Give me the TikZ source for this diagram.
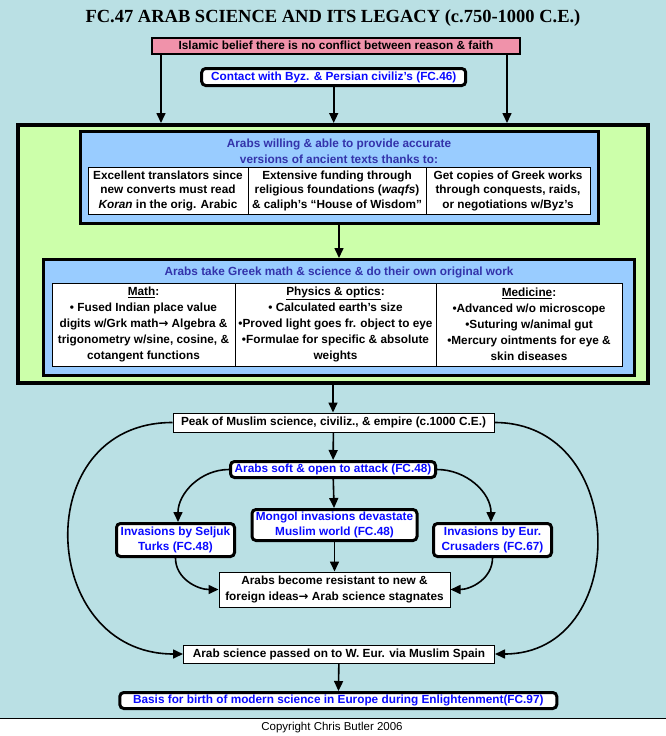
\documentclass[tikz,border=0pt]{standalone}
\usepackage{fontspec}
\setmainfont{Liberation Sans}
\newfontfamily\titlefont{Liberation Serif}
\newfontfamily\arrowfont{DejaVu Sans}
\newcommand{\toarrow}{{\arrowfont\bfseries →}}
\usetikzlibrary{arrows.meta}
\usetikzlibrary{positioning}
\definecolor{bgteal}{RGB}{186,224,228}
\definecolor{greenbg}{RGB}{204,255,170}
\definecolor{bluebg}{RGB}{153,204,255}
\definecolor{pinkbg}{RGB}{240,146,170}
\definecolor{linkblue}{RGB}{10,10,255}
\definecolor{headblue}{RGB}{51,51,170}
\tikzset{
    font={\fontsize{11.8}{14.5}\selectfont\bfseries},
    box/.style={
           rectangle,
           draw=black, line width=1pt,
           fill=white,
           inner sep=0pt,
           align=center,
           text centered,
           },
    linkbox/.style={box, rounded corners=4pt, line width=3pt, text=linkblue},
    cell/.style={box, line width=0.8pt},
    frame/.style={rectangle, draw=black, inner sep=0pt},
    arr/.style={-{Triangle[length=10pt,width=9pt]}, line width=1.6pt},
}
\begin{document}
\begin{tikzpicture}[x=1pt,y=-1pt]
\useasboundingbox (0,0) rectangle (666,736);
\fill[bgteal] (0,0) rectangle (666,718);
\draw[line width=1pt] (0,718) -- (666,718);

\node[font={\titlefont\fontsize{18.5}{20}\selectfont\bfseries}] (TITLE) at (333,18) {FC.47 ARAB SCIENCE AND ITS LEGACY (c.750-1000 C.E.)};

% top causes
\node[box, fill=pinkbg, line width=2pt, minimum width=368pt, minimum height=16pt] (FAITH) at (336,45.5) {Islamic belief there is no conflict between reason \& faith};
\node[linkbox, minimum width=264pt, minimum height=17pt] (CONTACT) at (333.7,77) {Contact with Byz. \& Persian civiliz’s (FC.46)};

% big green frame
\node[frame, fill=greenbg, line width=4pt, minimum width=630pt, minimum height=258pt] (GREEN) at (333,254) {};

% State: accurate versions of texts
\node[frame, fill=bluebg, line width=3pt, minimum width=518pt, minimum height=92pt] (TEXTS) at (339,177.5) {};
\node[text=headblue, align=center, font={\fontsize{11.8}{16}\selectfont\bfseries}] (TEXTSHEAD) at (339,151.5) {Arabs willing \& able to provide accurate\\versions of ancient texts thanks to:};
\node[cell, minimum width=160pt, minimum height=47pt] (TRANSLATORS) at (168,190.5) {Excellent translators since\\new converts must read\\\textit{Koran} in the orig. Arabic};
\node[cell, minimum width=178pt, minimum height=47pt, right=-0.8pt of TRANSLATORS] (FUNDING) {Extensive funding through\\religious foundations (\textit{waqfs})\\\& caliph’s “House of Wisdom”};
\node[cell, minimum width=164pt, minimum height=47pt, right=-0.8pt of FUNDING] (COPIES) {Get copies of Greek works\\through conquests, raids,\\or negotiations w/Byz’s};

% State: original work
\node[frame, fill=bluebg, line width=3pt, minimum width=591pt, minimum height=116pt] (WORK) at (339,317.5) {};
\node[text=headblue] (WORKHEAD) at (339,272) {Arabs take Greek math \& science \& do their own original work};
\node[cell, minimum width=183pt, minimum height=83pt, font={\fontsize{11.8}{16}\selectfont\bfseries}] (MATH) at (143.5,324.5) {\underline{Math}:\\• Fused Indian place value\\digits w/Grk math\toarrow{} Algebra \&\\trigonometry w/sine, cosine, \&\\cotangent functions};
\node[cell, minimum width=201pt, minimum height=83pt, font={\fontsize{11.8}{16}\selectfont\bfseries}, right=-0.8pt of MATH] (PHYSICS) {\underline{Physics \& optics}:\\• Calculated earth’s size\\•Proved light goes fr. object to eye\\•Formulae for specific \& absolute\\weights};
\node[cell, minimum width=186pt, minimum height=83pt, font={\fontsize{11.8}{16}\selectfont\bfseries}, right=-0.8pt of PHYSICS] (MEDICINE) {\underline{Medicine}:\\•Advanced w/o microscope\\•Suturing w/animal gut\\•Mercury ointments for eye \&\\skin diseases};

% lower chain
\node[box, minimum width=321pt, minimum height=19pt] (PEAK) at (333.5,422.5) {Peak of Muslim science, civiliz., \& empire (c.1000 C.E.)};
\node[linkbox, minimum width=205pt, minimum height=16pt] (SOFT) at (333,469.5) {Arabs soft \& open to attack (FC.48)};
\node[linkbox, minimum width=165pt, minimum height=31pt] (MONGOL) at (334.5,525) {Mongol invasions devastate\\Muslim world (FC.48)};
\node[linkbox, minimum width=118pt, minimum height=33pt] (SELJUK) at (175.5,540) {Invasions by Seljuk\\Turks (FC.48)};
\node[linkbox, minimum width=118pt, minimum height=33pt] (CRUSADERS) at (492.5,540) {Invasions by Eur.\\Crusaders (FC.67)};
\node[box, minimum width=231pt, minimum height=35pt, font={\fontsize{11.8}{16}\selectfont\bfseries}] (RESISTANT) at (334.5,589.5) {Arabs become resistant to new \&\\foreign ideas\toarrow{} Arab science stagnates};
\node[box, minimum width=311pt, minimum height=18pt] (SPAIN) at (339,654) {Arab science passed on to W. Eur. via Muslim Spain};
\node[linkbox, minimum width=437pt, minimum height=16pt] (BASIS) at (338.3,700.5) {Basis for birth of modern science in Europe during Enlightenment(FC.97)};

\node[font={\fontsize{11.5}{13}\selectfont}] (COPYRIGHT) at (332,727.5) {Copyright Chris Butler 2006};

% connectors
\draw[arr] ([xshift=10pt]FAITH.south west) -- ([xshift=10pt]FAITH.south west |- GREEN.north);
\draw[arr] ([xshift=-14pt]FAITH.south east) -- ([xshift=-14pt]FAITH.south east |- GREEN.north);
\draw[arr] (CONTACT.south) -- (CONTACT.south |- GREEN.north);
\draw[arr] (TEXTS.south) -- (TEXTS.south |- WORK.north);
\draw[arr] (GREEN.south) -- (GREEN.south |- PEAK.north);
\draw[arr] (PEAK) -- (SOFT);
\draw[arr] (SOFT) -- (MONGOL);
\draw[arr] (MONGOL) -- (RESISTANT);
\draw[arr] (SOFT.west) to[out=180,in=90] ([xshift=2.5pt]SELJUK.north);
\draw[arr] (SOFT.east) to[out=0,in=90] ([xshift=-1.5pt]CRUSADERS.north);
\draw[arr] (SELJUK.south) to[out=270,in=180] (RESISTANT.west);
\draw[arr] (CRUSADERS.south) to[out=270,in=0] (RESISTANT.east);
\draw[arr] (PEAK.west) to[out=180,in=180,looseness=1.6] (SPAIN.west);
\draw[arr] (PEAK.east) to[out=0,in=0,looseness=1.5] (SPAIN.east);
\draw[arr] (SPAIN) -- (BASIS);

\end{tikzpicture}
\end{document}
